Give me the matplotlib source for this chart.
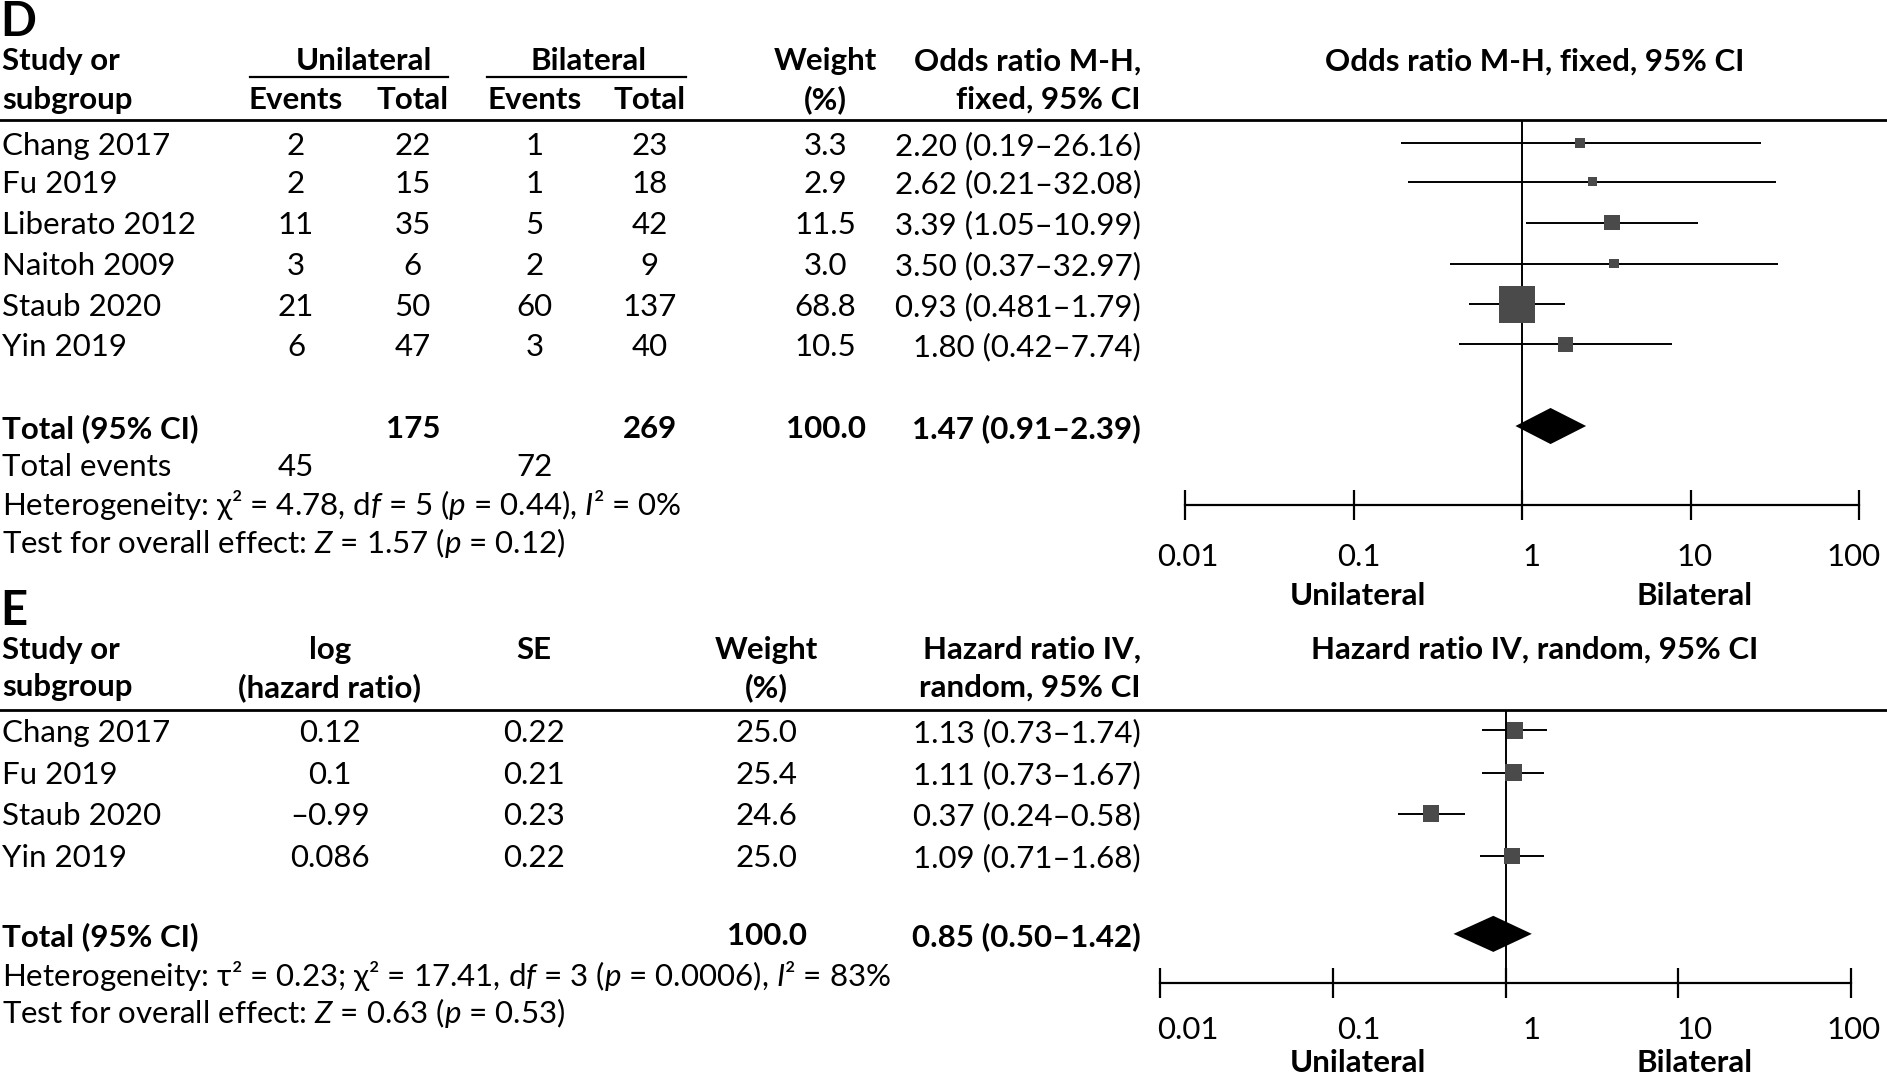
import matplotlib
matplotlib.use('Agg')
import matplotlib.pyplot as plt
import numpy as np

FONT = ['Lato', 'Liberation Sans', 'DejaVu Sans']
plt.rcParams['font.family'] = FONT
plt.rcParams['mathtext.fontset'] = 'custom'
plt.rcParams['mathtext.rm'] = 'Lato'
plt.rcParams['mathtext.it'] = 'Lato:italic'
plt.rcParams['mathtext.bf'] = 'Lato:bold'

# ---------------- data: panel D ----------------
d_studies = ['Chang 2017', 'Fu 2019', 'Liberato 2012', 'Naitoh 2009', 'Staub 2020', 'Yin 2019']
d_uni_events = [2, 2, 11, 3, 21, 6]
d_uni_total = [22, 15, 35, 6, 50, 47]
d_bi_events = [1, 1, 5, 2, 60, 3]
d_bi_total = [23, 18, 42, 9, 137, 40]
d_weight = [3.3, 2.9, 11.5, 3.0, 68.8, 10.5]
d_or = [2.20, 2.62, 3.39, 3.50, 0.93, 1.80]
d_lo = [0.19, 0.21, 1.05, 0.37, 0.481, 0.42]
d_hi = [26.16, 32.08, 10.99, 32.97, 1.79, 7.74]
d_or_text = ['2.20 (0.19–26.16)', '2.62 (0.21–32.08)', '3.39 (1.05–10.99)',
             '3.50 (0.37–32.97)', '0.93 (0.481–1.79)', '1.80 (0.42–7.74)']
d_total = [1.47, 0.91, 2.39]
d_total_text = '1.47 (0.91–2.39)'
d_total_n = [175, 269]
d_total_events = [45, 72]
d_het = 'Heterogeneity: χ² = 4.78, d$f$ = 5 ($p$ = 0.44), $I$² = 0%'
d_test = 'Test for overall effect: $Z$ = 1.57 ($p$ = 0.12)'

# ---------------- data: panel E ----------------
e_studies = ['Chang 2017', 'Fu 2019', 'Staub 2020', 'Yin 2019']
e_loghr = [0.12, 0.1, -0.99, 0.086]
e_se = [0.22, 0.21, 0.23, 0.22]
e_weight = [25.0, 25.4, 24.6, 25.0]
e_hr = [1.13, 1.11, 0.37, 1.09]
e_lo = [0.73, 0.73, 0.24, 0.71]
e_hi = [1.74, 1.67, 0.58, 1.68]
e_total = [0.85, 0.50, 1.42]
e_het = 'Heterogeneity: τ² = 0.23; χ² = 17.41, d$f$ = 3 ($p$ = 0.0006), $I$² = 83%'
e_test = 'Test for overall effect: $Z$ = 0.63 ($p$ = 0.53)'

tick_vals = [0.01, 0.1, 1, 10, 100]
tick_labels = ['0.01', '0.1', '1', '10', '100']

# ---------------- layout ----------------
FW, FH = 1887, 1076
S = FW / 1568.0
W = 1568.0
H = FH / S
FS = 22.5
SQ = '#4a4a4a'
label_x = [987, 1129, 1273, 1408, 1540]   # tick-label positions as drawn in the source figure

fig = plt.figure(figsize=(FW / 100, FH / 100), dpi=100)
bg = fig.add_axes([0, 0, 1, 1])
bg.set_xlim(0, W)
bg.set_ylim(H, 0)
bg.axis('off')


def t(x, y, s, ha='left', bold=False, size=FS):
    bg.text(x, y, s, ha=ha, va='center_baseline', fontsize=size,
            fontweight='bold' if bold else 'normal', color='black')


def fmt(v):
    return str(v).replace('-', '–')


def forest_axes(x0, x1, ytop, ybot, label_y):
    ax = fig.add_axes([x0 / W, 1 - ybot / H, (x1 - x0) / W, (ybot - ytop) / H])
    ax.set_facecolor('none')
    ax.set_xscale('log')
    ax.set_xlim(0.01, 100)
    ax.set_ylim(ybot, ytop)
    for sp in ['top', 'left', 'right']:
        ax.spines[sp].set_visible(False)
    ax.spines['bottom'].set_linewidth(1.6)
    ax.set_yticks([])
    ax.set_xticks(tick_vals)
    ax.set_xticklabels([])
    ax.minorticks_off()
    ax.tick_params(axis='x', direction='inout', length=21, width=1.6)
    ax.axvline(1, color='black', lw=1.4, zorder=1)
    for lx, lab in zip(label_x, tick_labels):
        t(lx, label_y, lab, ha='center')
    return ax


# ================= Panel D =================
t(0, 15, 'D', bold=True, size=34)
y1, y2 = 49, 81
t(2, y1, 'Study or', bold=True)
t(2, y2, 'subgroup', bold=True)
t(302, y1, 'Unilateral', ha='center', bold=True)
t(489, y1, 'Bilateral', ha='center', bold=True)
bg.plot([208, 372], [64, 64], color='black', lw=1.6)
bg.plot([405, 570], [64, 64], color='black', lw=1.6)
cx = [246, 343, 444, 540, 686]
t(cx[0], y2, 'Events', ha='center', bold=True)
t(cx[1], y2, 'Total', ha='center', bold=True)
t(cx[2], y2, 'Events', ha='center', bold=True)
t(cx[3], y2, 'Total', ha='center', bold=True)
t(cx[4], y1, 'Weight', ha='center', bold=True)
t(cx[4], y2, '(%)', ha='center', bold=True)
t(948, y1, 'Odds ratio M-H,', ha='right', bold=True)
t(948, y2, 'fixed, 95% CI', ha='right', bold=True)
t(1275, y1, 'Odds ratio M-H, fixed, 95% CI', ha='center', bold=True)
bg.plot([0, W], [100, 100], color='black', lw=2.0)

d_rows = [119, 151, 185, 219, 253, 286]
for i, y in enumerate(d_rows):
    t(2, y, d_studies[i])
    t(cx[0], y, str(d_uni_events[i]), ha='center')
    t(cx[1], y, str(d_uni_total[i]), ha='center')
    t(cx[2], y, str(d_bi_events[i]), ha='center')
    t(cx[3], y, str(d_bi_total[i]), ha='center')
    t(cx[4], y, '%.1f' % d_weight[i], ha='center')
    t(948, y, d_or_text[i], ha='right')

yt = 354
t(2, yt, 'Total (95% CI)', bold=True)
t(cx[1], yt, str(d_total_n[0]), ha='center', bold=True)
t(cx[3], yt, str(d_total_n[1]), ha='center', bold=True)
t(cx[4], yt, '100.0', ha='center', bold=True)
t(948, yt, d_total_text, ha='right', bold=True)
t(2, 386, 'Total events')
t(cx[0], 386, str(d_total_events[0]), ha='center')
t(cx[2], 386, str(d_total_events[1]), ha='center')
t(2, 417, d_het)
t(2, 448, d_test)

axD = forest_axes(985, 1545, 100, 420, 461)
for i, y in enumerate(d_rows):
    axD.plot([d_lo[i], d_hi[i]], [y, y], color='black', lw=1.4, zorder=2,
             solid_capstyle='butt')
axD.scatter(d_or, d_rows, s=[w * 9.8 + 15 for w in d_weight], marker='s', color=SQ,
            linewidths=0, zorder=3)
hd = 15
axD.fill([d_total[1], d_total[0], d_total[2], d_total[0]],
         [yt, yt - hd, yt, yt + hd], color='black', lw=0, zorder=3)
t(1128, 493, 'Unilateral', ha='center', bold=True)
t(1408, 493, 'Bilateral', ha='center', bold=True)

# ================= Panel E =================
t(0, 504, 'E', bold=True, size=34)
y1, y2 = 538, 569
ex = [274, 444, 637]
t(2, y1, 'Study or', bold=True)
t(2, y2, 'subgroup', bold=True)
t(ex[0], y1, 'log', ha='center', bold=True)
t(ex[0], y2, '(hazard ratio)', ha='center', bold=True)
t(ex[1], y1, 'SE', ha='center', bold=True)
t(ex[2], y1, 'Weight', ha='center', bold=True)
t(ex[2], y2, '(%)', ha='center', bold=True)
t(948, y1, 'Hazard ratio IV,', ha='right', bold=True)
t(948, y2, 'random, 95% CI', ha='right', bold=True)
t(1275, y1, 'Hazard ratio IV, random, 95% CI', ha='center', bold=True)
bg.plot([0, W], [590, 590], color='black', lw=2.0)

e_rows = [607, 642, 676, 711]
for i, y in enumerate(e_rows):
    t(2, y, e_studies[i])
    t(ex[0], y, fmt(e_loghr[i]), ha='center')
    t(ex[1], y, '%.2f' % e_se[i], ha='center')
    t(ex[2], y, '%.1f' % e_weight[i], ha='center')
    t(948, y, '%.2f (%.2f–%.2f)' % (e_hr[i], e_lo[i], e_hi[i]), ha='right')

yt = 776
t(2, yt, 'Total (95% CI)', bold=True)
t(ex[2], yt, '100.0', ha='center', bold=True)
t(948, yt, '%.2f (%.2f–%.2f)' % tuple(e_total), ha='right', bold=True)
t(2, 808, e_het)
t(2, 839, e_test)

axE = forest_axes(964, 1538, 590, 817, 854)
for i, y in enumerate(e_rows):
    axE.plot([e_lo[i], e_hi[i]], [y, y], color='black', lw=1.4, zorder=2,
             solid_capstyle='butt')
axE.scatter(e_hr, e_rows, s=[w * 5.5 for w in e_weight], marker='s', color=SQ,
            linewidths=0, zorder=3)
he = 15
axE.fill([e_total[1], e_total[0], e_total[2], e_total[0]],
         [yt, yt - he, yt, yt + he], color='black', lw=0, zorder=3)
t(1128, 881, 'Unilateral', ha='center', bold=True)
t(1408, 881, 'Bilateral', ha='center', bold=True)

fig.savefig('out.png', dpi=100)
